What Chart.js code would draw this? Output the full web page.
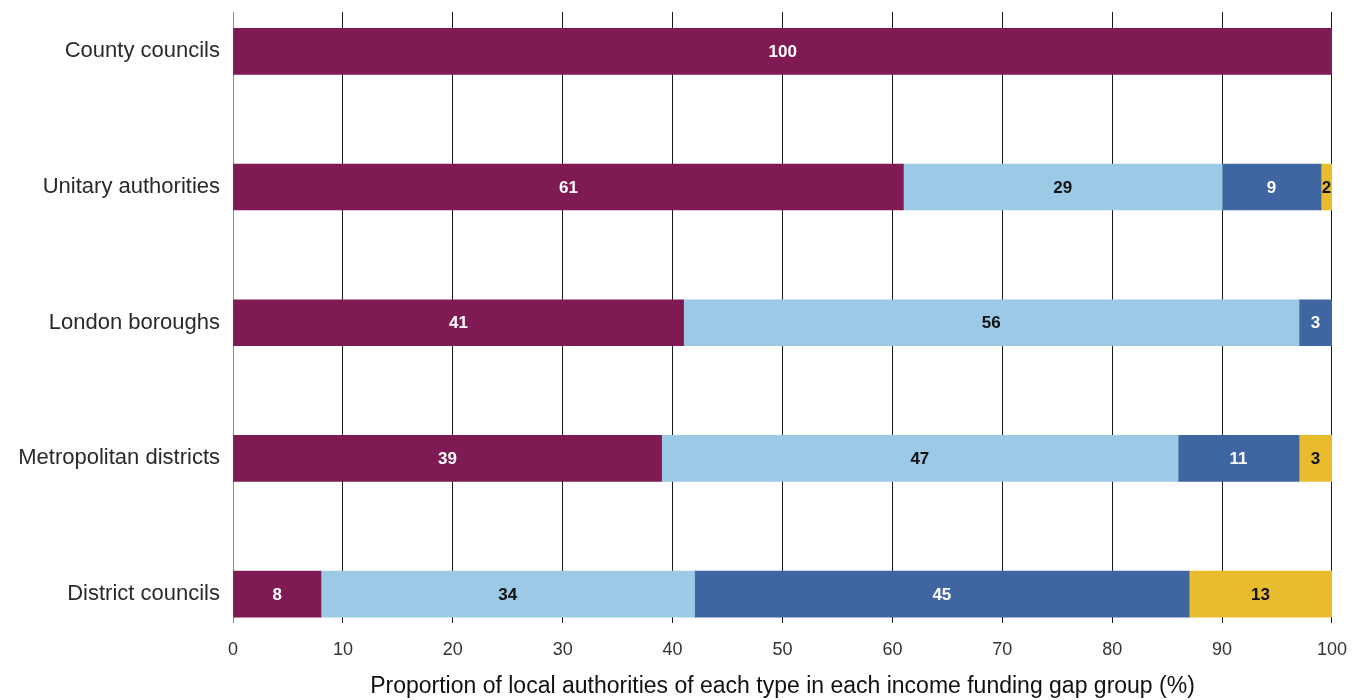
<!DOCTYPE html>
<html>
<head>
<meta charset="utf-8">
<script src="https://cdn.jsdelivr.net/npm/chart.js@4.4.1/dist/chart.umd.min.js"></script>
<style>
  html, body { margin: 0; padding: 0; background: #fff; }
  #wrap { width: 1363px; height: 700px; }
</style>
</head>
<body>
<div id="wrap"><canvas id="chart"></canvas></div>
<script>
'use strict';

const categories = [
  'County councils',
  'Unitary authorities',
  'London boroughs',
  'Metropolitan districts',
  'District councils'
];

// share of authorities (%) in each income funding gap group, per authority type
const group1 = [100, 61, 41, 39, 8];
const group2 = [null, 29, 56, 47, 34];
const group3 = [null, 9, 3, 11, 45];
const group4 = [null, 2, null, 3, 13];

const xTicks = [0, 10, 20, 30, 40, 50, 60, 70, 80, 90, 100];
const axisTitle = 'Proportion of local authorities of each type in each income funding gap group (%)';

const FONT = '"Liberation Sans", Arial, sans-serif';

const seriesDefs = [
  { label: 'Group 1', values: group1, color: '#7f1a55', text: '#ffffff' },
  { label: 'Group 2', values: group2, color: '#9bc9e6', text: '#111111' },
  { label: 'Group 3', values: group3, color: '#3f66a1', text: '#ffffff' },
  { label: 'Group 4', values: group4, color: '#e8bc2e', text: '#111111' }
];

const datasets = seriesDefs.map((s) => ({
  label: s.label,
  data: s.values
    .map((v, i) => (v == null ? null : { x: v, y: i }))
    .filter(Boolean),
  backgroundColor: s.color,
  textColor: s.text,
  borderWidth: 0,
  barThickness: 46
}));

// value labels centred on the visible part of each segment
const segmentLabels = {
  id: 'segmentLabels',
  afterDatasetsDraw(chart) {
    const { ctx, chartArea } = chart;
    ctx.save();
    ctx.font = `bold 17px ${FONT}`;
    ctx.textAlign = 'center';
    ctx.textBaseline = 'middle';
    chart.data.datasets.forEach((ds, di) => {
      const meta = chart.getDatasetMeta(di);
      meta.data.forEach((bar, i) => {
        const left = Math.max(Math.min(bar.base, bar.x), chartArea.left);
        const right = Math.min(Math.max(bar.base, bar.x), chartArea.right);
        if (right <= left) {
          return;
        }
        ctx.fillStyle = ds.textColor;
        ctx.fillText(String(ds.data[i].x), (left + right) / 2, bar.y + 1);
      });
    });
    ctx.restore();
  }
};

new Chart(document.getElementById('chart'), {
  type: 'bar',
  data: { datasets },
  plugins: [segmentLabels],
  options: {
    indexAxis: 'y',
    responsive: true,
    maintainAspectRatio: false,
    animation: false,
    layout: { padding: { top: 12, right: 31, bottom: 0, left: 0 } },
    plugins: {
      legend: { display: false },
      tooltip: { enabled: false }
    },
    scales: {
      x: {
        type: 'linear',
        stacked: true,
        min: 0,
        max: 100,
        afterBuildTicks(scale) {
          scale.ticks = xTicks.map((value) => ({ value }));
        },
        afterFit(scale) {
          scale.height = 77;
        },
        grid: {
          drawTicks: false,
          color: (c) => (c.tick && c.tick.value === 0 ? '#8a8a8a' : '#1a1a1a'),
          lineWidth: 1
        },
        border: { display: false },
        ticks: {
          padding: 16,
          color: '#333',
          font: { family: FONT, size: 18 }
        },
        title: {
          display: true,
          text: axisTitle,
          color: '#111',
          padding: { top: 14, bottom: 0 },
          font: { family: FONT, size: 23 }
        }
      },
      y: {
        type: 'linear',
        stacked: true,
        reverse: true,
        offset: false,
        min: -0.29,
        max: 4.213,
        afterBuildTicks(scale) {
          scale.ticks = categories.map((_, i) => ({ value: i }));
        },
        afterFit(scale) {
          scale.width = 233;
          scale.paddingTop = 0;
          scale.paddingBottom = 0;
        },
        grid: { display: false, drawTicks: false },
        border: { display: false },
        ticks: {
          padding: 13,
          color: '#2a2a2a',
          font: { family: FONT, size: 22 },
          callback: (v) => categories[v] ?? ''
        }
      }
    }
  }
});
</script>
</body>
</html>
